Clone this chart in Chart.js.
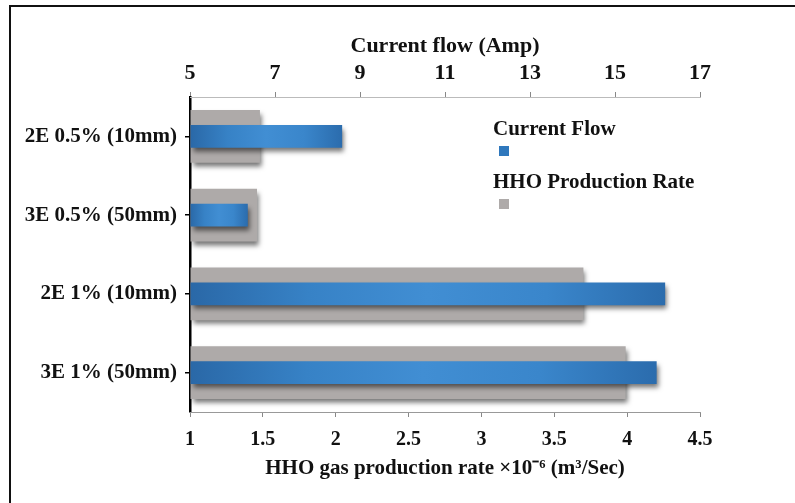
<!DOCTYPE html>
<html>
<head>
<meta charset="utf-8">
<script src="https://cdn.jsdelivr.net/npm/chart.js@4.4.1/dist/chart.umd.min.js"></script>
<style>
  body { margin: 0; background: #fff; }
  #wrap { position: relative; width: 795px; height: 503px; }
  #frame { position: absolute; left: 9px; top: 5px; width: 800px; height: 520px;
    border-top: 2px solid #111; border-left: 2px solid #111; }
  canvas { position: absolute; left: 0; top: 0; }
</style>
</head>
<body>
<div id="wrap">
  <div id="frame"></div>
  <canvas id="myChart" width="795" height="503"></canvas>
</div>
<script>
const categories = ['2E 0.5% (10mm)', '3E 0.5% (50mm)', '2E 1% (10mm)', '3E 1% (50mm)']
const currentFlow = [8.58, 6.36, 16.18, 15.98]
const hhoRate = [1.48, 1.46, 3.70, 3.99]
const rateTicks = [1, 1.5, 2, 2.5, 3, 3.5, 4, 4.5]
const currentTicks = [5, 7, 9, 11, 13, 15, 17]

const serif = '"Liberation Serif", "Times New Roman", serif'

// horizontal shading along each bar, dark at the ends and light in the middle
function barGradient(axisId, stops) {
  return (context) => {
    const chart = context.chart
    if (!chart.chartArea || context.type !== 'data') return stops[0]
    const scale = chart.scales[axisId]
    const x0 = scale.getPixelForValue(scale.min)
    const x1 = scale.getPixelForValue(context.raw)
    if (!isFinite(x0) || !isFinite(x1) || x1 - x0 < 1) return stops[0]
    const g = chart.ctx.createLinearGradient(x0, 0, x1, 0)
    stops.forEach((c, i) => g.addColorStop(i / (stops.length - 1), c))
    return g
  }
}

const shadowPlugin = {
  id: 'barShadow',
  beforeDatasetDraw(chart) {
    const ctx = chart.ctx
    ctx.save()
    ctx.shadowColor = 'rgba(0, 0, 0, 0.55)'
    ctx.shadowBlur = 5
    ctx.shadowOffsetX = 2
    ctx.shadowOffsetY = 4
  },
  afterDatasetDraw(chart) {
    chart.ctx.restore()
  }
}

// legend inside the plot: label text with a small square under it
const sideLegend = {
  id: 'sideLegend',
  afterDraw(chart) {
    const ctx = chart.ctx
    const items = [
      { text: 'Current Flow', color: '#2f78bd', y: 130 },
      { text: 'HHO Production Rate', color: '#aeaaa9', y: 183 }
    ]
    ctx.save()
    items.forEach((item) => {
      ctx.font = 'bold 21px ' + serif
      ctx.fillStyle = '#111'
      ctx.textBaseline = 'middle'
      ctx.textAlign = 'left'
      ctx.fillText(item.text, 493, item.y)
      ctx.fillStyle = item.color
      ctx.fillRect(499, item.y + 16, 10, 10)
    })
    ctx.restore()
  }
}

const ctx = document.getElementById('myChart').getContext('2d')
const myChart = new Chart(ctx, {
  type: 'bar',
  data: {
    labels: categories,
    datasets: [
      {
        label: 'Current Flow',
        data: currentFlow,
        xAxisID: 'xTop',
        base: 5,
        grouped: false,
        order: 1,
        barPercentage: 0.29,
        categoryPercentage: 1,
        backgroundColor: barGradient('xTop', ['#2a68a7', '#3782c6', '#418ed3', '#3a86cb', '#2b6cad']),
        borderWidth: 0
      },
      {
        label: 'HHO Production Rate',
        data: hhoRate,
        xAxisID: 'x',
        base: 1,
        grouped: false,
        order: 2,
        barPercentage: 0.67,
        categoryPercentage: 1,
        backgroundColor: '#aeaaa9',
        borderWidth: 0
      }
    ]
  },
  options: {
    indexAxis: 'y',
    responsive: false,
    animation: false,
    layout: { padding: { left: 0, right: 95, top: 0, bottom: 0 } },
    scales: {
      y: {
        position: 'left',
        afterFit(scale) { scale.width = 190 },
        grid: { drawOnChartArea: false, offset: false, tickLength: 5, color: '#000', lineWidth: 1.5 },
        border: { color: '#000', width: 2.5 },
        ticks: { color: '#111', padding: 8, font: { family: serif, size: 21, weight: 'bold' } }
      },
      x: {
        position: 'bottom',
        min: 1,
        max: 4.5,
        afterFit(scale) { scale.height = 91 },
        afterBuildTicks(scale) { scale.ticks = rateTicks.map((v) => ({ value: v })) },
        grid: { drawOnChartArea: false, tickLength: 5, color: '#888' },
        border: { color: '#999', width: 1 },
        ticks: {
          color: '#111',
          padding: 11,
          callback: (v) => String(v),
          font: { family: serif, size: 20, weight: 'bold' }
        },
        title: {
          display: true,
          text: 'HHO gas production rate ×10⁻⁶ (m³/Sec)',
          color: '#111',
          padding: { top: 6, bottom: 22 },
          font: { family: serif, size: 21, weight: 'bold' }
        }
      },
      xTop: {
        position: 'top',
        min: 5,
        max: 17,
        afterFit(scale) { scale.height = 97 },
        afterBuildTicks(scale) { scale.ticks = currentTicks.map((v) => ({ value: v })) },
        grid: { drawOnChartArea: false, tickLength: 5, color: '#888' },
        border: { color: '#bbb', width: 1 },
        ticks: {
          color: '#111',
          padding: 5,
          font: { family: serif, size: 22, weight: 'bold' }
        },
        title: {
          display: true,
          text: 'Current flow (Amp)',
          color: '#111',
          padding: { top: 33, bottom: 6 },
          font: { family: serif, size: 22, weight: 'bold' }
        }
      }
    },
    plugins: {
      legend: { display: false },
      tooltip: { enabled: false }
    }
  },
  plugins: [shadowPlugin, sideLegend]
})
</script>
</body>
</html>
